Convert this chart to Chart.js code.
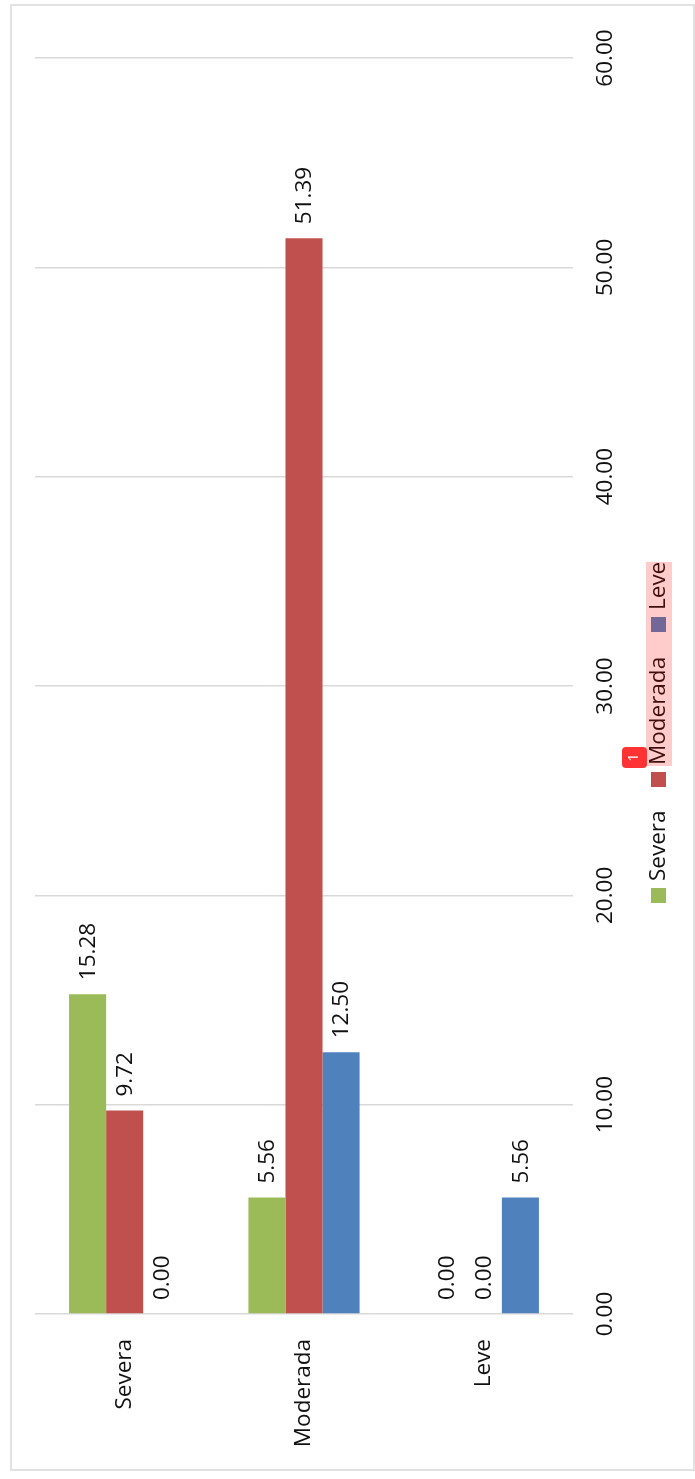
<!DOCTYPE html>
<html>
<head>
<meta charset="utf-8">
<script src="https://cdn.jsdelivr.net/npm/chart.js@4/dist/chart.umd.min.js"></script>
<style>
html,body{margin:0;padding:0;background:#fff;}
#frame{position:absolute;left:10px;top:4px;width:681px;height:1463px;border:2px solid #e2e2e2;box-sizing:content-box;}
#wrap{position:absolute;left:0;top:0;width:695px;height:1479px;}
canvas{display:block;}
</style>
</head>
<body>
<div id="frame"></div>
<div id="wrap"><canvas id="c" width="695" height="1479"></canvas></div>
<script>
const categories = ["Severa", "Moderada", "Leve"];
const severa = [15.28, 5.56, 0.00];
const moderada = [9.72, 51.39, 0.00];
const leve = [0.00, 12.50, 5.56];
const seriesNames = ["Severa", "Moderada", "Leve"];
const seriesColors = ["#9BBB59", "#C0504D", "#4F81BD"];
const axisMax = 60;
const axisStep = 10;

const FONT_SIZE = 22.5;
const FONT = FONT_SIZE + 'px "Open Sans"';
const TEXT = '#111111';

function rotatedText(ctx, text, x, y, font, color, align) {
  ctx.save();
  ctx.translate(x, y);
  ctx.rotate(-Math.PI / 2);
  ctx.font = font;
  ctx.fillStyle = color;
  ctx.textAlign = align || 'left';
  ctx.textBaseline = 'middle';
  ctx.fillText(text, 0, 0);
  ctx.restore();
}

const barValueLabels = {
  id: 'barValueLabels',
  afterDatasetsDraw(chart) {
    const ctx = chart.ctx;
    chart.data.datasets.forEach((ds, i) => {
      chart.getDatasetMeta(i).data.forEach((bar, j) => {
        rotatedText(ctx, ds.data[j].toFixed(2), bar.x + 1, bar.y - 14, FONT, TEXT);
      });
    });
  }
};

const rotatedLegend = {
  id: 'rotatedLegend',
  afterDraw(chart) {
    const ctx = chart.ctx;
    const markerX = 651, markerSize = 15, textX = 659;
    const starts = [903, 787, 632];
    chart.data.datasets.forEach((ds, i) => {
      const y0 = starts[i];
      ctx.fillStyle = ds.backgroundColor;
      ctx.fillRect(markerX, y0 - markerSize, markerSize, markerSize);
      rotatedText(ctx, ds.label, textX, y0 - markerSize - 7, FONT, TEXT);
    });
    // highlight over the last two legend entries
    ctx.fillStyle = 'rgba(255,0,0,0.2)';
    ctx.fillRect(646, 562, 26, 204);
    // numbered badge
    ctx.fillStyle = '#FF3333';
    ctx.beginPath();
    ctx.roundRect(622, 747, 25, 21, 4);
    ctx.fill();
    rotatedText(ctx, '1', 634.5, 757.5, '14px "Open Sans"', '#ffffff', 'center');
  }
};

new Chart(document.getElementById('c'), {
  type: 'bar',
  data: {
    labels: categories,
    datasets: [
      { label: seriesNames[0], data: severa, backgroundColor: seriesColors[0] },
      { label: seriesNames[1], data: moderada, backgroundColor: seriesColors[1] },
      { label: seriesNames[2], data: leve, backgroundColor: seriesColors[2] }
    ]
  },
  options: {
    responsive: false,
    animation: false,
    maintainAspectRatio: false,
    layout: { padding: { left: 35, top: 58, right: 0, bottom: 0 } },
    datasets: { bar: { categoryPercentage: 0.62, barPercentage: 1, borderWidth: 0 } },
    plugins: { legend: { display: false }, title: { display: false }, tooltip: { enabled: false } },
    scales: {
      x: {
        grid: { display: false, drawTicks: false },
        border: { display: false },
        afterFit(s) { s.height = 165; },
        ticks: {
          minRotation: 90, maxRotation: 90, padding: 25,
          font: { family: 'Open Sans', size: FONT_SIZE }, color: TEXT, autoSkip: false
        }
      },
      y: {
        position: 'right',
        min: 0, max: axisMax,
        grid: { color: '#d9d9d9', lineWidth: 1.5, drawTicks: false },
        border: { display: false },
        afterFit(s) { s.width = 122; },
        ticks: {
          stepSize: axisStep,
          minRotation: 90, maxRotation: 90,
          crossAlign: 'center', padding: 4,
          font: { family: 'Open Sans', size: FONT_SIZE }, color: TEXT,
          callback: v => Number(v).toFixed(2)
        }
      }
    }
  },
  plugins: [barValueLabels, rotatedLegend]
});
</script>
</body>
</html>
